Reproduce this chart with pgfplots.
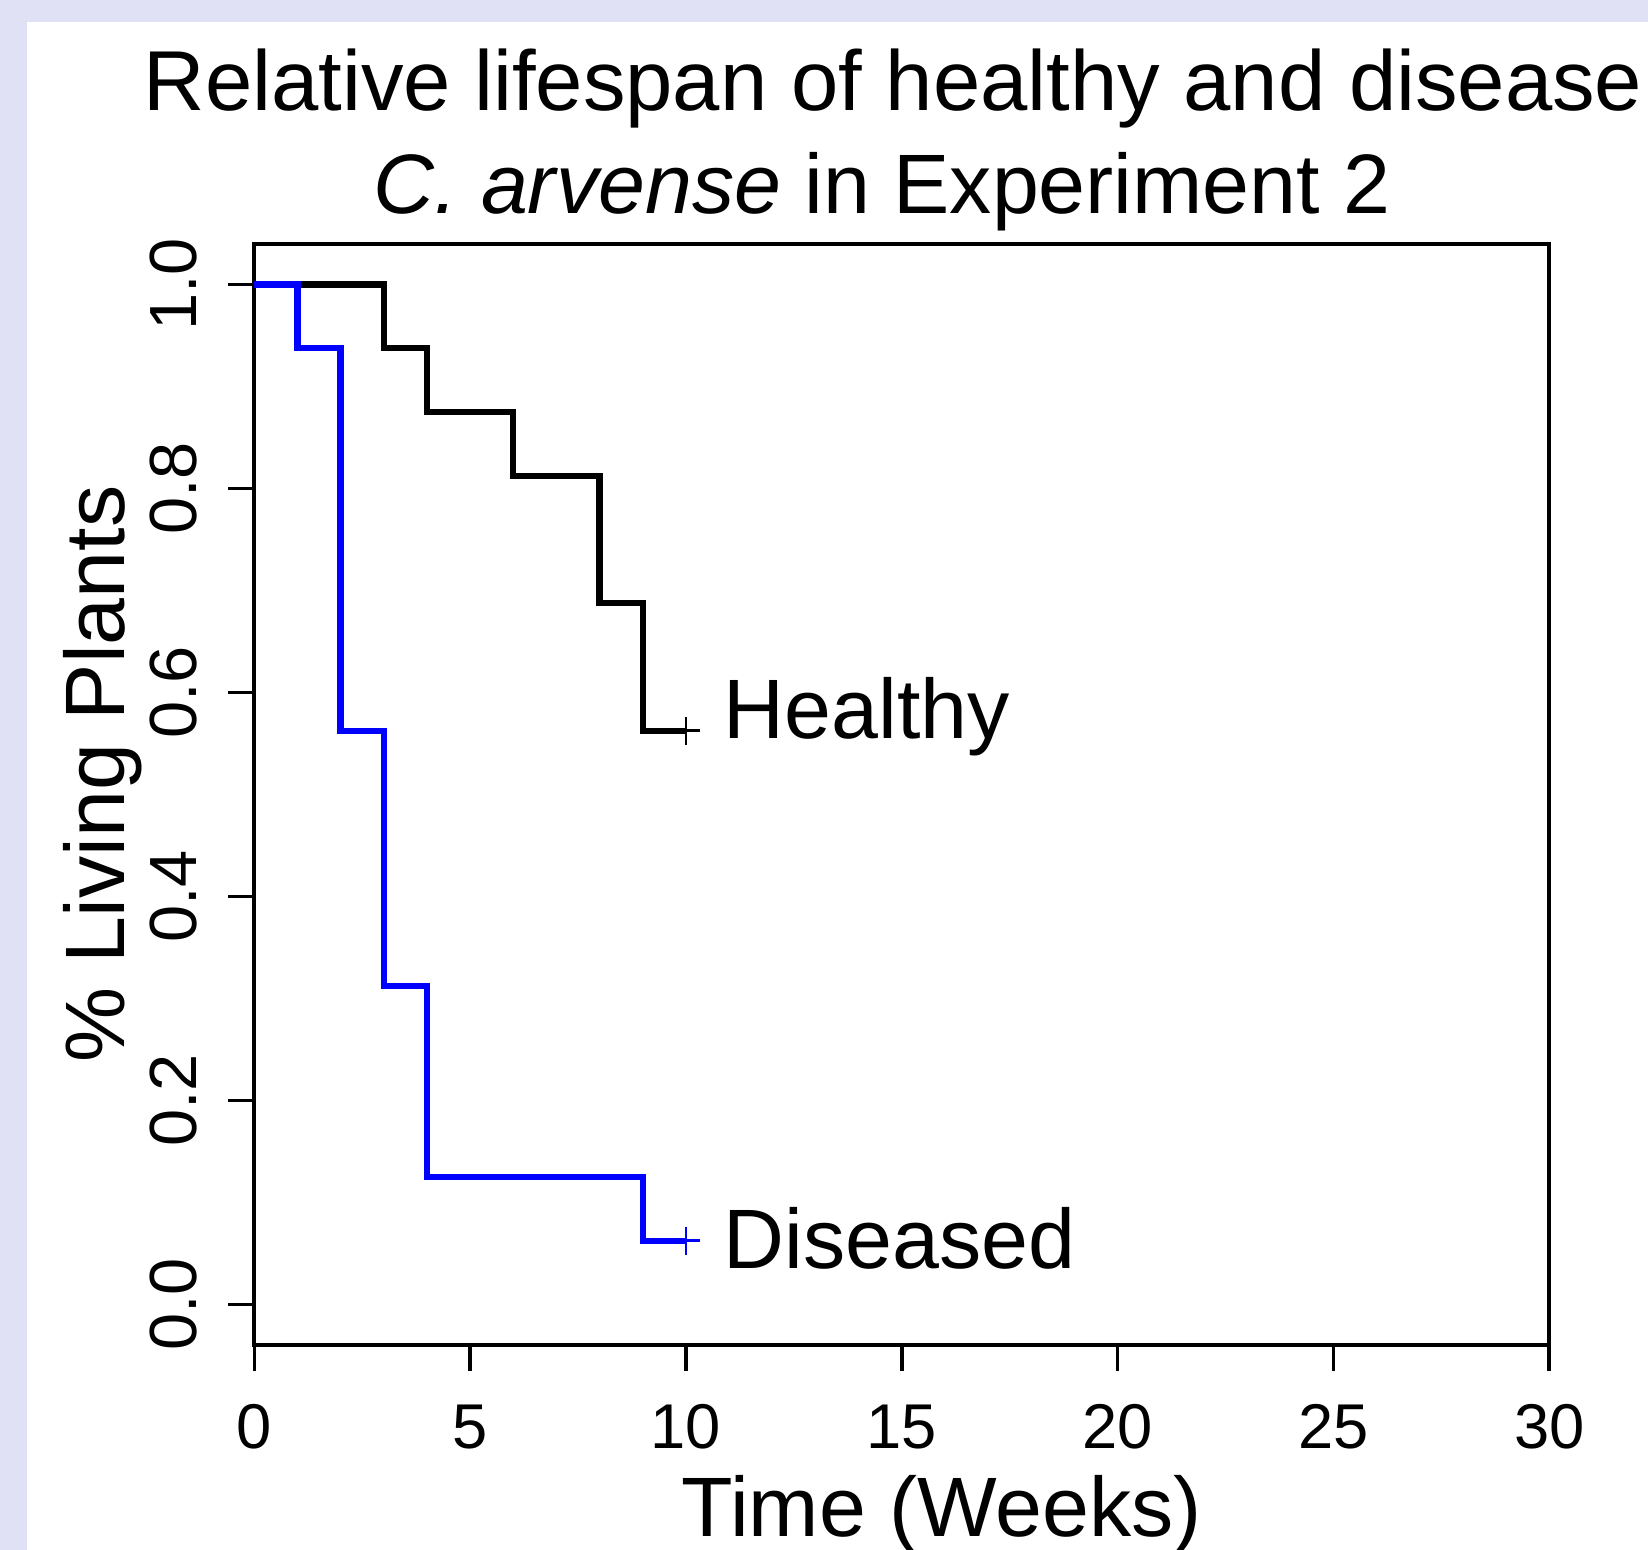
\documentclass[border=0pt]{standalone}
\usepackage{fontspec}
\setmainfont{Liberation Sans}
\usepackage{pgfplots}
\pgfplotsset{compat=1.18}
\definecolor{framebg}{RGB}{224,225,245}
\newcommand{\bigtxt}{\fontsize{24}{29}\selectfont}

\begin{document}
\begin{tikzpicture}
\useasboundingbox (0,0) rectangle (16.48,15.5);
\fill[framebg] (0,0) rectangle (16.48,15.5);
\fill[white] (0.27,0) rectangle (16.48,15.28);
\begin{axis}[
  at={(2.543cm,2.047cm)}, anchor=south west,
  width=12.949cm, height=11.015cm, scale only axis,
  xmin=0, xmax=30, ymin=-0.04, ymax=1.04,
  xtick={0,5,10,15,20,25,30},
  ytick={0,0.2,0.4,0.6,0.8,1},
  tick pos=left, tick align=outside,
  major tick length=0.26cm,
  axis line style={line width=1.1pt},
  every tick/.style={black, line width=1pt},
  /pgf/number format/assume math mode=true,
  xticklabel style={font=\fontsize{18}{22}\selectfont, anchor=center, yshift=-0.557cm},
  yticklabel style={font=\fontsize{19}{23}\selectfont, rotate=90, anchor=center, yshift=0.55cm,
    /pgf/number format/.cd, fixed, fixed zerofill, precision=1},
  xlabel={Time (Weeks)},
  ylabel={\% Living Plants},
  every axis x label/.style={at={(rel axis cs:0.531,0)}, anchor=base, inner sep=0pt,
    yshift=-1.917cm, font=\bigtxt},
  every axis y label/.style={at={(rel axis cs:0,0.5187)}, rotate=90, anchor=base, inner sep=0pt,
    yshift=1.293cm, font=\bigtxt},
  clip=false,
]
% Healthy
\addplot[const plot, black, line width=1.8pt, mark=none] coordinates {
 (0,1) (3,0.9375) (4,0.875) (6,0.8125) (8,0.6875) (9,0.5625) (10,0.5625)};
% Diseased
\addplot[const plot, blue, line width=1.8pt, mark=none] coordinates {
 (0,1) (1,0.9375) (2,0.5625) (3,0.3125) (4,0.125) (9,0.0625) (10,0.0625)};
% censored
\addplot[only marks, black, mark=+, mark size=0.14cm, mark options={line width=0.8pt}] coordinates {(10,0.5625)};
\addplot[only marks, blue, mark=+, mark size=0.14cm, mark options={line width=0.8pt}] coordinates {(10,0.0625)};
\node[anchor=base west, inner sep=0pt, font=\bigtxt] at (axis cs:10.86,0.555) {Healthy};
\node[anchor=base west, inner sep=0pt, font=\bigtxt] at (axis cs:10.86,0.0356) {Diseased};
\end{axis}
\node[anchor=base west, inner sep=0pt, font=\fontsize{24.2}{29}\selectfont] at (1.43,14.39) {Relative lifespan of healthy and disease};
\node[anchor=base, inner sep=0pt, font=\bigtxt] at (8.82,13.36) {\textit{C. arvense} in Experiment 2};
\end{tikzpicture}
\end{document}
